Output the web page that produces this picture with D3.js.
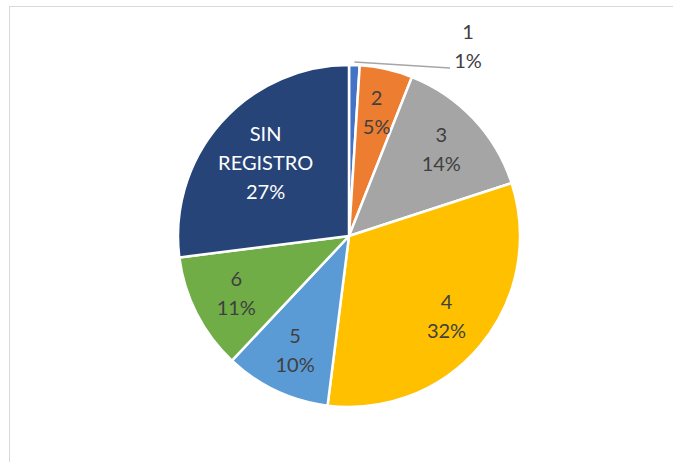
<!DOCTYPE html>
<html>
<head>
<meta charset="utf-8">
<script src="https://cdn.jsdelivr.net/npm/d3@7"></script>
<style>
  body { margin: 0; background: #fff; }
  text { font-family: Lato, "Open Sans", sans-serif; }
</style>
</head>
<body>
<div id="chart"></div>
<script>
// slice data, clockwise from 12 o'clock
var categories = ["1", "2", "3", "4", "5", "6", "SIN REGISTRO"];
var values = [1, 5, 14, 32, 10, 11, 27];
var colors = ["#4472C4", "#ED7D31", "#A5A5A5", "#FFC000", "#5B9BD5", "#70AD47", "#264478"];

var svgWidth = 673;
var svgHeight = 462;

var svg = d3.select("#chart")
    .append("svg")
    .attr("width", svgWidth)
    .attr("height", svgHeight);

// chart area border
svg.append("rect")
    .attr("x", 9.5)
    .attr("y", 6.5)
    .attr("width", 700)
    .attr("height", 500)
    .attr("fill", "none")
    .attr("stroke", "#d9d9d9")
    .attr("stroke-width", 1);

var cx = 349, cy = 236, radius = 171;

var data = categories.map((c, i) => ({ cat: c, value: values[i], color: colors[i] }));
var total = d3.sum(values);

var pie = d3.pie()
    .value(d => d.value)
    .sort(null);

var arc = d3.arc()
    .innerRadius(0)
    .outerRadius(radius);

var labelArc = d3.arc()
    .innerRadius(radius * 0.74)
    .outerRadius(radius * 0.74);

var labelArcSmall = d3.arc()
    .innerRadius(radius * 0.65)
    .outerRadius(radius * 0.65);

var g = svg.append("g")
    .attr("transform", `translate(${cx}, ${cy})`);

var arcs = pie(data);

g.selectAll("path")
    .data(arcs)
    .enter()
    .append("path")
    .attr("d", arc)
    .attr("fill", d => d.data.color)
    .attr("stroke", "#fff")
    .attr("stroke-width", 2.5)
    .attr("stroke-linejoin", "round");

var lineH = 29;
var fontSize = "20px";

arcs.forEach(function (d) {
    var pct = Math.round(d.data.value / total * 100) + "%";
    var lines = d.data.cat.split(" ").concat([pct]);

    if (d.data.value < 3) {
        // small slice: label outside with leader line
        var edge = d3.arc().innerRadius(radius + 1).outerRadius(radius + 1).centroid(d);
        g.append("line")
            .attr("x1", edge[0])
            .attr("y1", edge[1] - 2)
            .attr("x2", 450 - cx)
            .attr("y2", 68 - cy)
            .attr("stroke", "#a6a6a6")
            .attr("stroke-width", 1.5);
        var t = g.append("text")
            .attr("text-anchor", "middle")
            .attr("fill", "#404040")
            .style("font-size", fontSize);
        lines.forEach(function (l, i) {
            t.append("tspan")
                .attr("x", 468 - cx)
                .attr("y", 46 - cy + (i - (lines.length - 1) / 2) * lineH + 7)
                .text(l);
        });
        return;
    }

    var pos = lines.length > 2 ? labelArcSmall.centroid(d) : labelArc.centroid(d);
    var txt = g.append("text")
        .attr("text-anchor", "middle")
        .attr("fill", d.data.cat === "SIN REGISTRO" ? "#ffffff" : "#404040")
        .style("font-size", fontSize);
    lines.forEach(function (l, i) {
        txt.append("tspan")
            .attr("x", pos[0])
            .attr("y", pos[1] + (i - (lines.length - 1) / 2) * lineH + 7)
            .text(l);
    });
});
</script>
</body>
</html>
